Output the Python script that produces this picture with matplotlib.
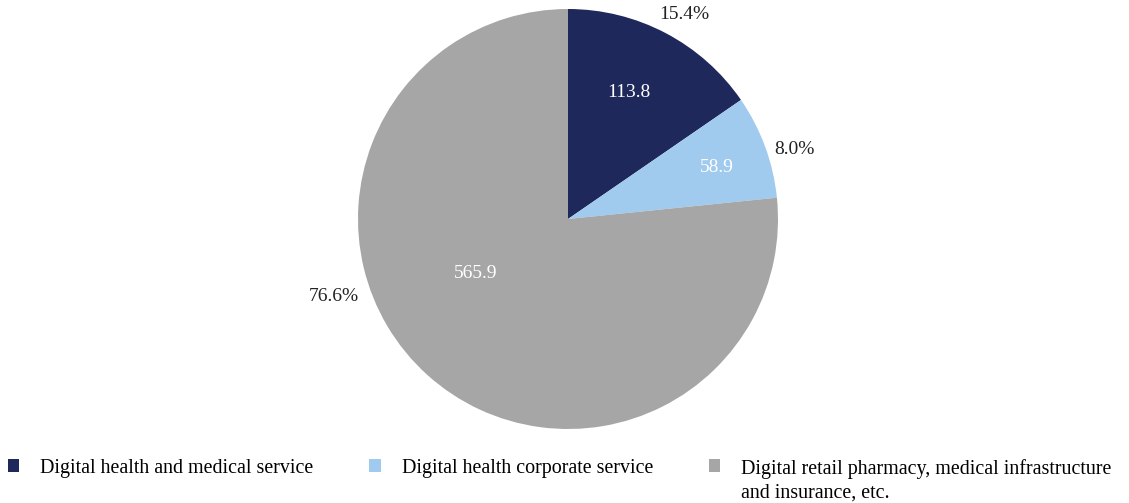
import numpy as np
import matplotlib.pyplot as plt

plt.rcParams['font.family'] = ['Liberation Serif', 'DejaVu Serif']

categories = ['Digital health and medical service',
              'Digital health corporate service',
              'Digital retail pharmacy, medical infrastructure\nand insurance, etc.']
values = [113.8, 58.9, 565.9]
shares = ['15.4%', '8.0%', '76.6%']
colors = ['#1e285a', '#a0cbee', '#a6a6a6']

# label placement (angle in degrees, radius as fraction of pie radius)
val_pos = [(64.2, 0.667), (18.9, 0.75), (210.7, 0.51)]
pct_pos = [(60.5, 1.12), (17.0, 1.13), (198.3, 1.175)]

fig = plt.figure(figsize=(11.29, 5.03), dpi=100)
ax = fig.add_axes([358 / 1129, 74 / 503, 420 / 1129, 420 / 503])

wedges, _ = ax.pie(values, colors=colors, startangle=90, counterclock=False,
                   radius=1.0, wedgeprops=dict(linewidth=0))
ax.set_xlim(-1, 1)
ax.set_ylim(-1, 1)
ax.set_aspect('equal')

for v, (a, r) in zip(values, val_pos):
    t = np.deg2rad(a)
    ax.text(r * np.cos(t), r * np.sin(t), f'{v:.1f}', color='white',
            ha='center', va='center', fontsize=14)

for s, (a, r) in zip(shares, pct_pos):
    t = np.deg2rad(a)
    ax.text(r * np.cos(t), r * np.sin(t), s, color='#222222',
            ha='center', va='center', fontsize=14, clip_on=False)

leg = fig.legend(wedges, categories, loc='upper left', bbox_to_anchor=(0.0067, 0.087),
                 ncol=3, frameon=False, fontsize=14.4, handlelength=0.57,
                 handleheight=0.57, columnspacing=2.8, handletextpad=1.05,
                 borderaxespad=0, borderpad=0)
for t in leg.get_texts():
    t.set_linespacing(1.3)
# align markers and columns on the first line of each label
leg._legend_handle_box.align = 'top'
for col in leg._legend_handle_box.get_children():
    for row in col.get_children():
        row.align = 'top'

fig.savefig('out.png', dpi=100)
